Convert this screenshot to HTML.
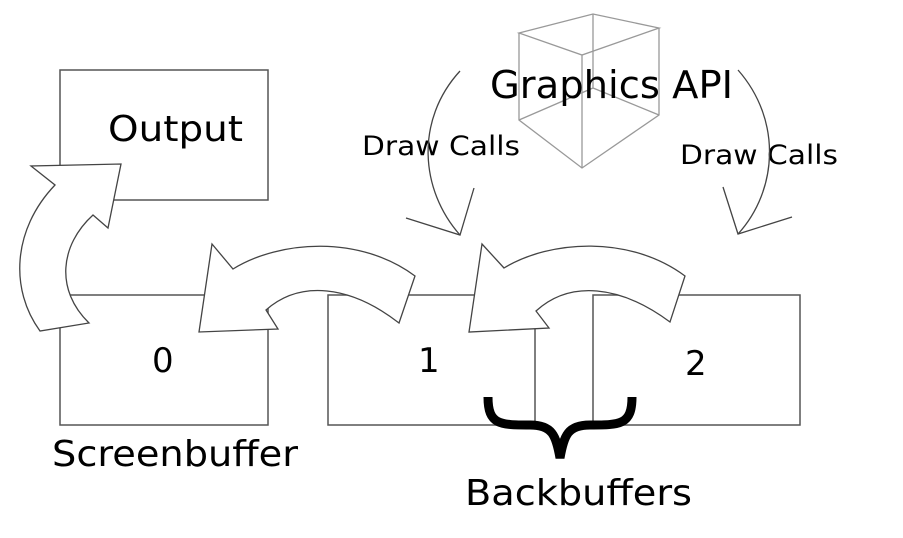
<!DOCTYPE html>
<html><head><meta charset="utf-8"><style>
html,body{margin:0;padding:0;background:#fff;}
svg{display:block}
text{font-family:"DejaVu Sans","Liberation Sans",sans-serif;fill:#000}
</style></head><body>
<svg width="903" height="538" viewBox="0 0 903 538" xmlns="http://www.w3.org/2000/svg">
<g fill="none" stroke="#555" stroke-width="1.5">
<rect x="60" y="70" width="208" height="130"/>
<rect x="60" y="295" width="208" height="130"/>
<rect x="328" y="295" width="207" height="130"/>
<rect x="593" y="295" width="207" height="130"/>
</g>
<g fill="none" stroke="#999" stroke-width="1.3">
<path d="M519,33 L593,14 L659,28 L582,55 Z"/>
<path d="M519,33 L519,120 L582,168 L659,115 L659,28"/>
<path d="M582,55 L582,168"/>
<path d="M593,14 L593,88 M519,120 L593,88 L659,115"/>
</g>
<text x="490" y="98" font-size="38" textLength="243" lengthAdjust="spacingAndGlyphs">Graphics API</text>
<text x="108" y="141" font-size="36" textLength="135" lengthAdjust="spacingAndGlyphs">Output</text>
<text x="362" y="155" font-size="27" textLength="158" lengthAdjust="spacingAndGlyphs">Draw Calls</text>
<text x="680" y="164" font-size="27" textLength="158" lengthAdjust="spacingAndGlyphs">Draw Calls</text>
<g fill="none" stroke="#444" stroke-width="1.3">
<path d="M460,71 C415,120 420,190 460,235"/>
<path d="M406,218 L460,235 L474,188"/>
<path d="M738,70 C782,120 778,190 738,234"/>
<path d="M723,187 L738,234 L792,217"/>
</g>
<g fill="#fff" stroke="#444" stroke-width="1.3" stroke-linejoin="miter">
<path d="M40,331 C10,290 12,230 55,185 L31,166 L121,164 L108,228 L93,215 C60,245 55,290 89,323 Z"/>
<path d="M212,244 L199,332 L278,329 L266,310 C300,280 350,285 399,323 L415,276 C360,235 280,240 233,269 Z"/>
<path d="M482,244 L469,332 L549,328 L536,311 C570,280 620,285 670,322 L685,276 C630,235 550,240 504,268 Z"/>
</g>
<text x="152" y="372" font-size="34">0</text>
<text x="418" y="372" font-size="34">1</text>
<text x="685" y="375" font-size="34">2</text>
<text x="52" y="466" font-size="36" textLength="246" lengthAdjust="spacingAndGlyphs">Screenbuffer</text>
<text x="465" y="505" font-size="36" textLength="227" lengthAdjust="spacingAndGlyphs">Backbuffers</text>
<path d="M488,397 C488,425 500,425 530,425 C552,425 556,435 560,458 C564,435 568,425 590,425 C620,425 632,425 632,397" fill="none" stroke="#000" stroke-width="9"/>
</svg>
</body></html>
